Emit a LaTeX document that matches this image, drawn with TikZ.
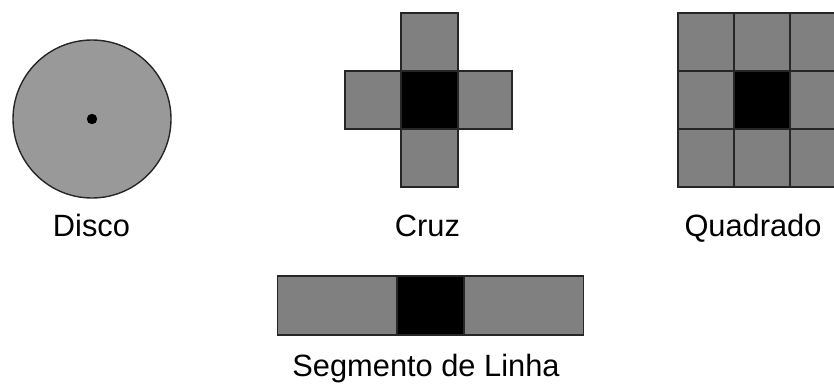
\documentclass[tikz,border=0pt]{standalone}
\usepackage{fontspec}
\setmainfont{Liberation Sans}
\begin{document}
\begin{tikzpicture}[x=1pt,y=-1pt,
  cell/.style={draw=black!85,line width=1.6pt,fill=black!50},
  core/.style={draw=black!85,line width=1.6pt,fill=black},
  disc/.style={draw=black!85,line width=1.4pt,fill=black!40},
  caption/.style={font=\fontsize{30.8}{36}\selectfont,inner sep=0pt,anchor=base}]
\useasboundingbox (0,0) rectangle (834,383);
\clip (0,0) rectangle (834,383);

% Disco: filled disc with its centre point
\draw[disc] (92,119) ellipse [x radius=79, y radius=79];
\fill (92,119) circle [radius=5.2];
\node[caption] (disco) at (91.5,236) {Disco};

% Cruz: centre cell with its four neighbours
\draw[cell] (401,13) rectangle (457.7,70.7);
\draw[cell] (345,70.7) rectangle (401,129);
\draw[cell] (457.7,70.7) rectangle (511.7,129);
\draw[cell] (401,129) rectangle (457.7,186.7);
\draw[core] (401,70.7) rectangle (457.7,129);
\node[caption] (cruz) at (427.5,236) {Cruz};

% Quadrado: 3x3 block of cells
\foreach \xa/\xb in {677.7/734,734/790,790/846}
  \foreach \ya/\yb in {12.7/70.7,70.7/128.7,128.7/186.7}
    \draw[cell] (\xa,\ya) rectangle (\xb,\yb);
\draw[core] (734,70.7) rectangle (790,128.7);
\node[caption] (quadrado) at (753,236) {Quadrado};

% Segmento de Linha: horizontal strip
\draw[cell] (277.3,275.7) rectangle (396.7,335);
\draw[cell] (464,275.7) rectangle (583.3,335);
\draw[core] (396.7,275.7) rectangle (464,335);
\node[caption] (segmento) at (426,376.3) {Segmento de Linha};
\end{tikzpicture}
\end{document}
